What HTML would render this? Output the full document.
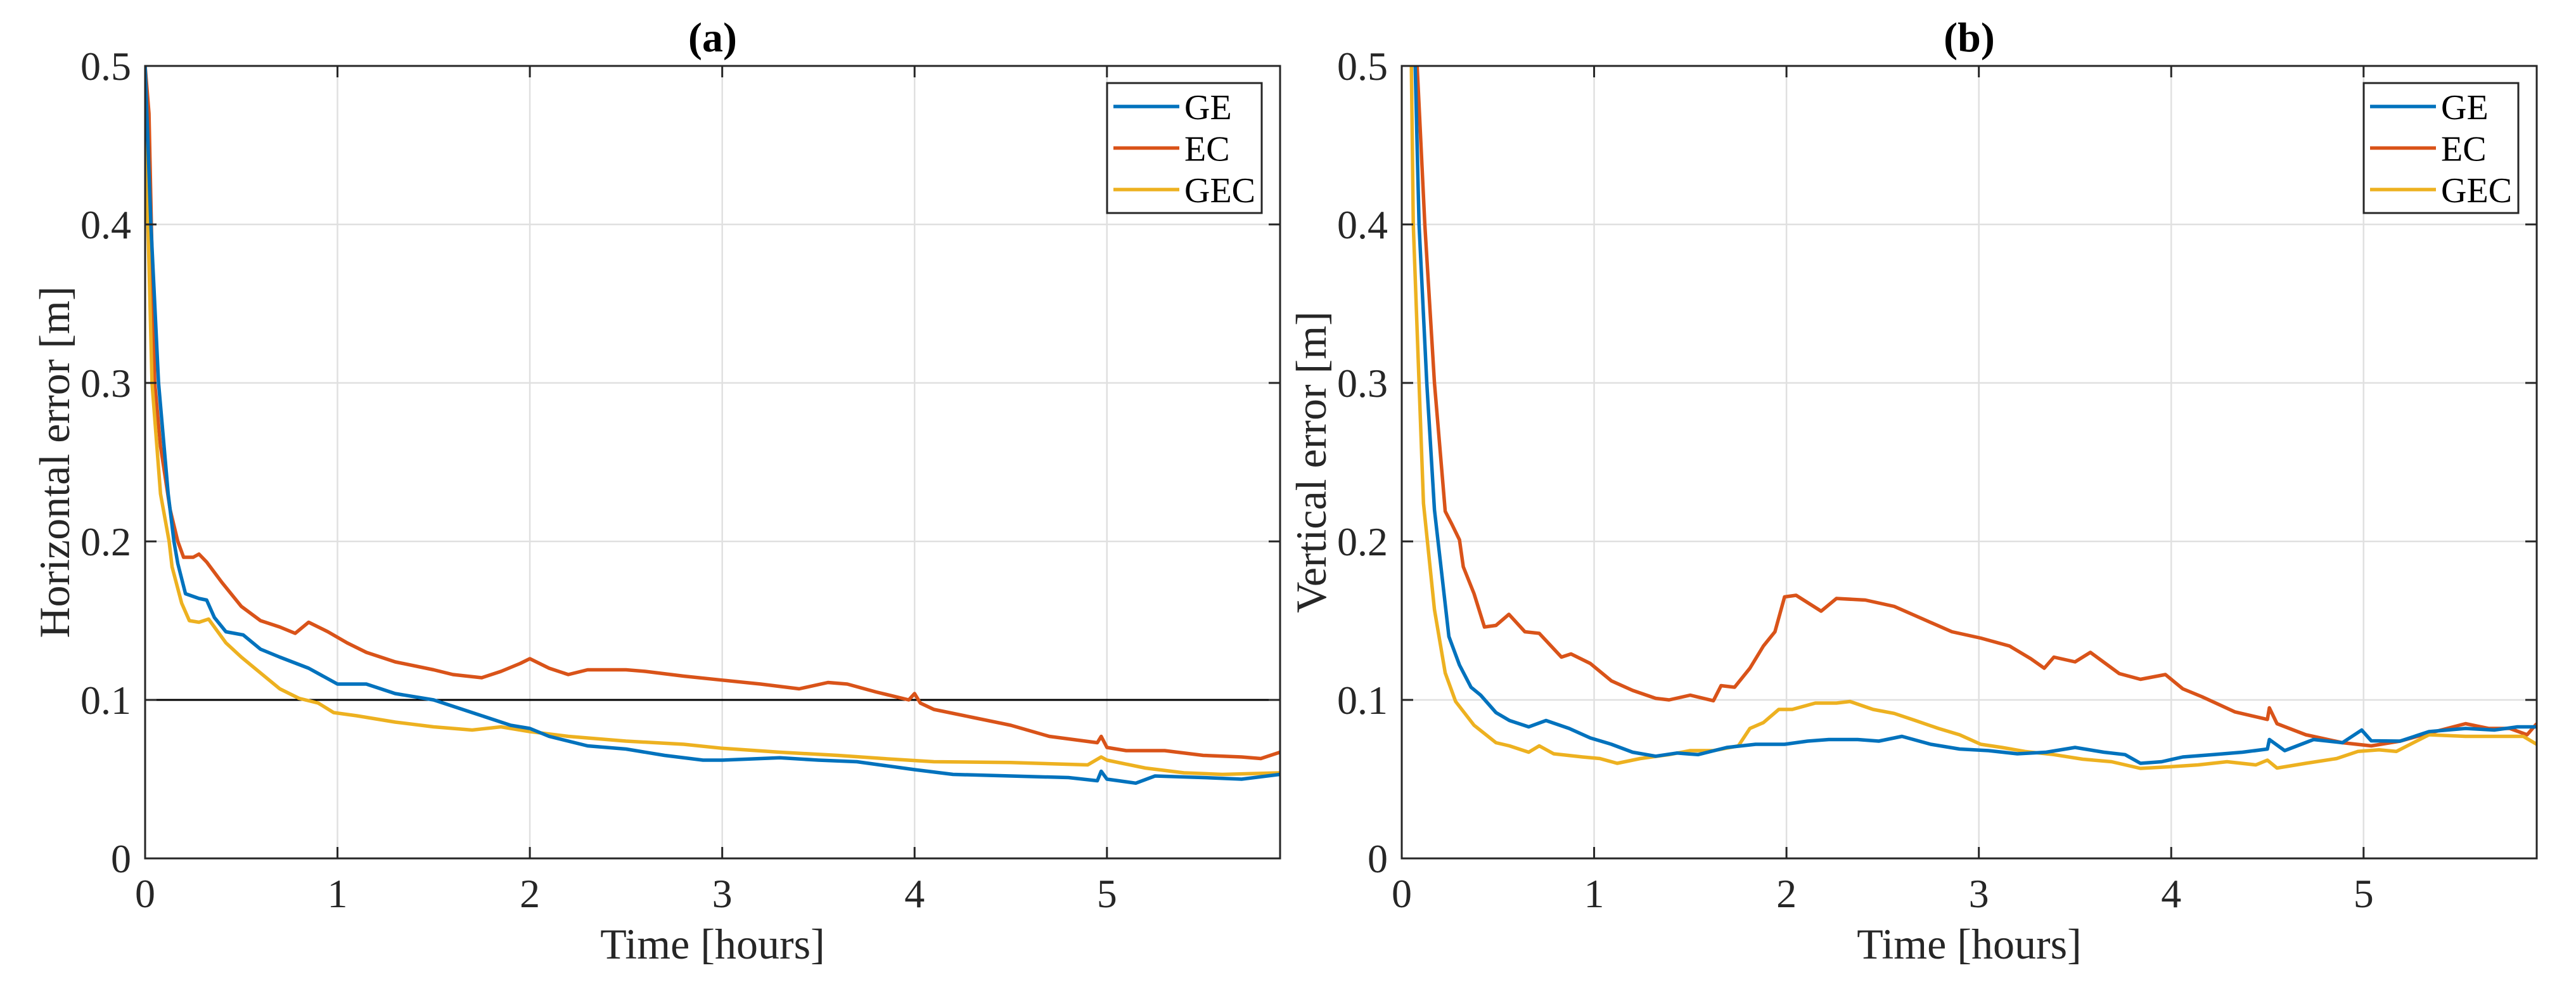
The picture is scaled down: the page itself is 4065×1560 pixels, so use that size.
<!DOCTYPE html>
<html><head><meta charset="utf-8"><style>
html,body{margin:0;padding:0;background:#fff;}
svg{display:block;font-family:"Liberation Serif",serif;}
</style></head><body>
<svg id="fig" width="4065" height="1560" viewBox="0 0 4065 1560" xmlns="http://www.w3.org/2000/svg">
<rect x="0" y="0" width="4065" height="1560" fill="#fff"/>
<g id="pa"></g>
<g id="pb"></g>
</svg>
<script>
const xTicks = [0,1,2,3,4,5];
const yTicks = [0,0.1,0.2,0.3,0.4,0.5];
const yTickLabels = ["0","0.1","0.2","0.3","0.4","0.5"];
const seriesNames = ["GE","EC","GEC"];
const seriesColors = ["#0072BD","#D95319","#EDB120"];

const aGE_t = [0,0.03,0.07,0.12,0.15,0.17,0.21,0.28,0.32,0.36,0.42,0.51,0.6,0.7,0.85,1.0,1.15,1.3,1.5,1.7,1.9,2.0,2.1,2.3,2.5,2.7,2.9,3.0,3.3,3.5,3.7,4.0,4.2,4.5,4.8,4.95,4.97,5.0,5.15,5.25,5.5,5.7,5.9];
const aGE_v = [0.5,0.4,0.3,0.23,0.2,0.186,0.167,0.164,0.163,0.152,0.143,0.141,0.132,0.127,0.12,0.11,0.11,0.104,0.1,0.092,0.084,0.082,0.077,0.071,0.069,0.065,0.062,0.062,0.0635,0.062,0.061,0.056,0.053,0.052,0.051,0.049,0.055,0.05,0.0475,0.052,0.051,0.05,0.053];
const aEC_t = [0,0.02,0.05,0.08,0.13,0.17,0.2,0.25,0.28,0.32,0.4,0.5,0.6,0.7,0.78,0.85,0.95,1.05,1.15,1.3,1.5,1.6,1.75,1.85,1.95,2.0,2.1,2.2,2.3,2.5,2.6,2.8,3.0,3.2,3.4,3.55,3.65,3.8,3.97,4.0,4.03,4.1,4.3,4.5,4.7,4.95,4.97,5.0,5.1,5.3,5.5,5.7,5.8,5.9];
const aEC_v = [0.5,0.47,0.3,0.26,0.22,0.2,0.19,0.19,0.192,0.187,0.174,0.159,0.15,0.146,0.142,0.149,0.143,0.136,0.13,0.124,0.119,0.116,0.114,0.118,0.123,0.126,0.12,0.116,0.119,0.119,0.118,0.115,0.1125,0.11,0.107,0.111,0.11,0.105,0.1,0.104,0.098,0.094,0.089,0.084,0.077,0.073,0.077,0.07,0.068,0.068,0.065,0.064,0.063,0.067];
const aGEC_t = [0,0.036,0.08,0.125,0.14,0.19,0.23,0.28,0.33,0.42,0.5,0.6,0.7,0.8,0.9,0.98,1.1,1.3,1.5,1.7,1.85,2.0,2.2,2.5,2.8,3.0,3.3,3.6,3.9,4.1,4.5,4.9,4.97,5.0,5.2,5.4,5.6,5.9];
const aGEC_v = [0.47,0.3,0.23,0.2,0.184,0.161,0.15,0.149,0.151,0.136,0.127,0.117,0.107,0.101,0.098,0.092,0.09,0.086,0.083,0.081,0.083,0.08,0.077,0.074,0.072,0.0695,0.067,0.065,0.0625,0.061,0.0605,0.059,0.064,0.062,0.057,0.054,0.053,0.054];

const bGE_t = [0,0.07,0.09,0.13,0.17,0.245,0.3,0.36,0.41,0.49,0.56,0.66,0.75,0.87,0.98,1.09,1.2,1.32,1.43,1.54,1.69,1.84,1.99,2.11,2.22,2.37,2.48,2.6,2.75,2.9,3.05,3.2,3.35,3.5,3.65,3.76,3.84,3.95,4.06,4.22,4.37,4.5,4.51,4.59,4.74,4.89,4.99,5.04,5.19,5.34,5.53,5.68,5.8,5.9];
const bGE_v = [0.8,0.5,0.4,0.3,0.22,0.14,0.122,0.108,0.103,0.092,0.087,0.083,0.087,0.082,0.076,0.072,0.067,0.0645,0.0665,0.0655,0.07,0.072,0.072,0.074,0.075,0.075,0.074,0.077,0.072,0.069,0.068,0.066,0.067,0.07,0.067,0.0655,0.06,0.061,0.064,0.0655,0.067,0.069,0.075,0.068,0.075,0.073,0.081,0.0742,0.074,0.08,0.082,0.081,0.083,0.083];
const bEC_t = [0,0.08,0.12,0.17,0.226,0.26,0.3,0.32,0.376,0.43,0.49,0.557,0.64,0.715,0.83,0.88,0.98,1.09,1.2,1.32,1.39,1.5,1.62,1.66,1.73,1.81,1.88,1.94,1.99,2.05,2.18,2.26,2.41,2.56,2.71,2.86,3.01,3.16,3.27,3.34,3.39,3.5,3.58,3.73,3.84,3.97,4.06,4.16,4.33,4.5,4.51,4.55,4.7,4.89,5.04,5.19,5.34,5.53,5.65,5.76,5.85,5.9];
const bEC_v = [0.9,0.5,0.4,0.3,0.219,0.211,0.201,0.184,0.167,0.146,0.147,0.154,0.143,0.142,0.127,0.129,0.123,0.112,0.106,0.101,0.1,0.103,0.0995,0.109,0.108,0.12,0.134,0.143,0.165,0.166,0.156,0.164,0.163,0.159,0.151,0.143,0.139,0.134,0.126,0.12,0.127,0.124,0.13,0.1166,0.113,0.116,0.107,0.102,0.0925,0.0877,0.095,0.085,0.078,0.073,0.071,0.074,0.079,0.085,0.082,0.082,0.078,0.085];
const bGEC_t = [0,0.05,0.06,0.09,0.113,0.17,0.226,0.28,0.376,0.49,0.56,0.66,0.715,0.79,0.94,1.03,1.12,1.24,1.39,1.5,1.62,1.75,1.81,1.88,1.96,2.03,2.15,2.26,2.33,2.45,2.56,2.67,2.79,2.9,3.01,3.12,3.24,3.39,3.54,3.69,3.84,3.99,4.14,4.29,4.44,4.5,4.55,4.7,4.86,4.97,5.08,5.17,5.34,5.53,5.72,5.83,5.9];
const bGEC_v = [0.7,0.5,0.4,0.3,0.224,0.157,0.117,0.099,0.084,0.073,0.071,0.067,0.071,0.066,0.064,0.063,0.06,0.063,0.0655,0.068,0.068,0.071,0.082,0.0857,0.094,0.094,0.098,0.098,0.099,0.094,0.0915,0.087,0.082,0.078,0.072,0.07,0.0675,0.0655,0.0626,0.061,0.0568,0.0578,0.059,0.061,0.059,0.062,0.057,0.06,0.063,0.0675,0.0685,0.0675,0.078,0.077,0.077,0.077,0.072];

const NS = "http://www.w3.org/2000/svg";
function mk(tag, attrs, parent){
  const e = document.createElementNS(NS, tag);
  for (const k in attrs) e.setAttribute(k, attrs[k]);
  parent.appendChild(e);
  return e;
}

function drawPanel(g, cfg){
  const L = cfg.left, R = cfg.right, T = 104, B = 1354;
  const xMax = 5.9, yMax = 0.5;
  const sx = t => L + (t / xMax) * (R - L);
  const sy = v => B - (v / yMax) * (B - T);
  const clip = mk("clipPath", {id: cfg.id + "-clip"}, g);
  mk("rect", {x: L, y: T, width: R - L, height: B - T}, clip);
  // grid
  xTicks.forEach(t => {
    if (t === 0) return;
    const l = mk("line", {x1: sx(t), x2: sx(t), y1: T, y2: B, stroke: "#e0e0e0", "stroke-width": 2.5}, g);
    
    
  });
  yTicks.forEach(v => {
    if (v === 0 || v === 0.5) return;
    const l = mk("line", {x1: L, x2: R, y1: sy(v), y2: sy(v), stroke: "#e0e0e0", "stroke-width": 2.5}, g);
    
    
  });
  // series
  const data = cfg.series;
  const lg = mk("g", {"clip-path": "url(#" + cfg.id + "-clip)"}, g);
  
  
  if (cfg.refLine !== undefined) {
    const rl = mk("line", {x1: L, x2: R, y1: sy(cfg.refLine), y2: sy(cfg.refLine), stroke: "#000", "stroke-width": 3}, lg);
    
    
  }
  [1, 2, 0].forEach(i => {
    const s = data[i];
    const pts = s.t.map((t, k) => sx(t).toFixed(1) + "," + sy(s.v[k]).toFixed(1)).join(" ");
    const pl = mk("polyline", {points: pts, fill: "none", stroke: seriesColors[i], "stroke-width": 5.5, "stroke-linejoin": "round"}, lg);
    
    
  });
  // axes box
  const box = mk("rect", {x: L, y: T, width: R - L, height: B - T, fill: "none", stroke: "#262626", "stroke-width": 3}, g);
  
  
  // ticks
  xTicks.forEach(t => {
    mk("line", {x1: sx(t), x2: sx(t), y1: B, y2: B - 18, stroke: "#262626", "stroke-width": 3}, g);
    mk("line", {x1: sx(t), x2: sx(t), y1: T, y2: T + 18, stroke: "#262626", "stroke-width": 3}, g);
    const tx = mk("text", {x: sx(t), y: 1431, "text-anchor": "middle", "font-size": 64, fill: "#262626"}, g);
    tx.textContent = String(t);
    
    
  });
  yTicks.forEach((v, k) => {
    mk("line", {x1: L, x2: L + 18, y1: sy(v), y2: sy(v), stroke: "#262626", "stroke-width": 3}, g);
    mk("line", {x1: R, x2: R - 18, y1: sy(v), y2: sy(v), stroke: "#262626", "stroke-width": 3}, g);
    const ty = mk("text", {x: L - 22, y: sy(v) + 22, "text-anchor": "end", "font-size": 64, fill: "#262626"}, g);
    ty.textContent = yTickLabels[k];
    
    
  });
  // labels
  const xl = mk("text", {x: (L + R) / 2, y: 1512, "text-anchor": "middle", "font-size": 68, fill: "#262626"}, g);
  xl.textContent = "Time [hours]";
  
  
  const cy = (T + B) / 2, cx = L - 120;
  const yl = mk("text", {x: cx, y: cy, "text-anchor": "middle", "font-size": 68, fill: "#262626", transform: "rotate(-90 " + cx + " " + cy + ")"}, g);
  yl.textContent = cfg.ylabel;
  
  
  const ti = mk("text", {x: (L + R) / 2, y: 81, "text-anchor": "middle", "font-size": 66, "font-weight": "bold", fill: "#000"}, g);
  ti.textContent = cfg.title;
  
  
  // legend
  const lx = R - 273, ly = 131;
  const lgd = mk("g", {}, g);
  
  
  mk("rect", {x: lx, y: ly, width: 244, height: 205, fill: "#fff", stroke: "#262626", "stroke-width": 3}, lgd);
  seriesNames.forEach((n, i) => {
    const yy = ly + 37 + i * 65.5;
    const e = mk("g", {}, lgd);
    
    
    mk("line", {x1: lx + 10, x2: lx + 114, y1: yy, y2: yy, stroke: seriesColors[i], "stroke-width": 5.5}, e);
    const t = mk("text", {x: lx + 122, y: yy + 20, "font-size": 56, fill: "#000"}, e);
    t.textContent = n;
  });
}

drawPanel(document.getElementById("pa"), {
  id: "pa", left: 229, right: 2020, title: "(a)", ylabel: "Horizontal error [m]", refLine: 0.1,
  series: [{t: aGE_t, v: aGE_v}, {t: aEC_t, v: aEC_v}, {t: aGEC_t, v: aGEC_v}]
});
drawPanel(document.getElementById("pb"), {
  id: "pb", left: 2212, right: 4003, title: "(b)", ylabel: "Vertical error [m]",
  series: [{t: bGE_t, v: bGE_v}, {t: bEC_t, v: bEC_v}, {t: bGEC_t, v: bGEC_v}]
});
</script>
</body></html>
